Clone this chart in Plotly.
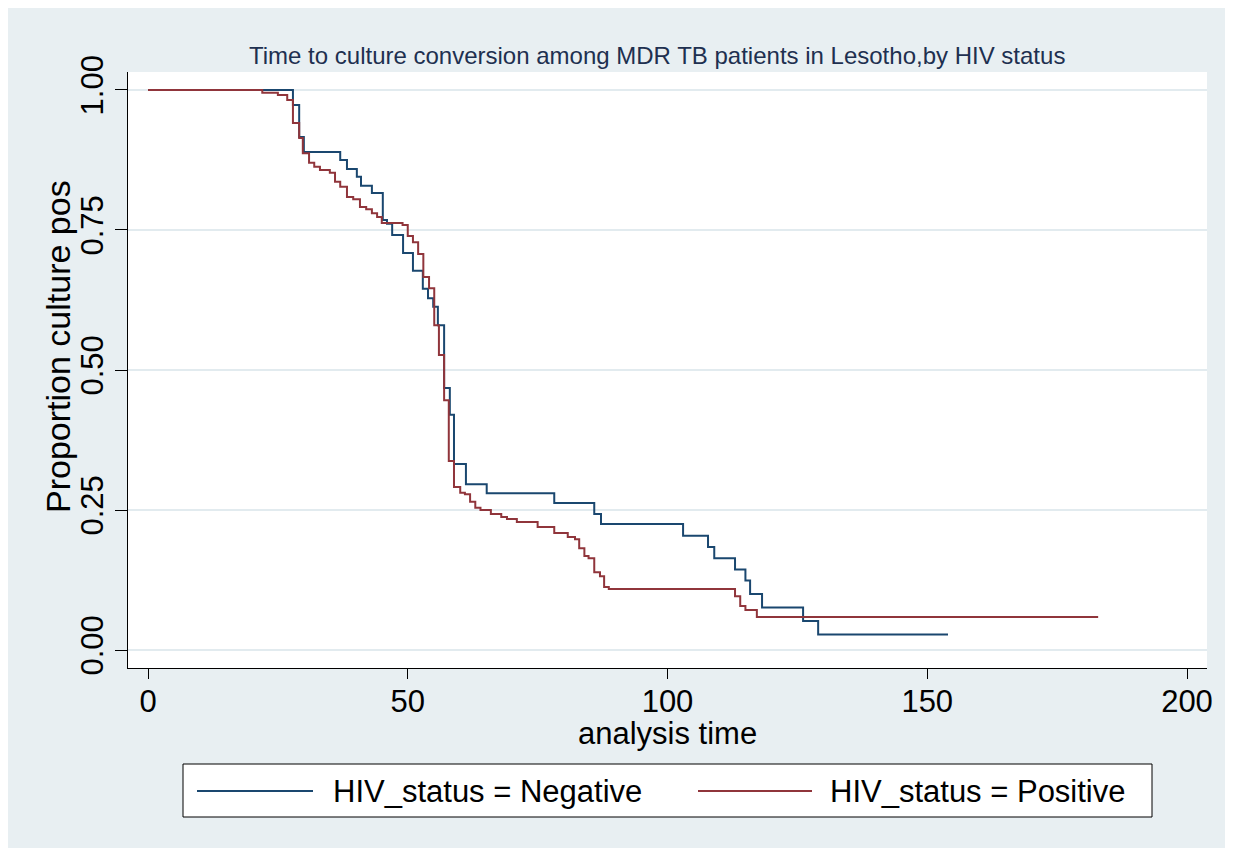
import plotly.graph_objects as go

# ---------------- data ----------------
neg_time = [0, 27.9, 29.1, 30.0, 37.0, 38.3, 40.2, 41.0, 43.1, 45.2,
            46.0, 47.0, 49.1, 51.0, 52.9, 53.9, 54.9, 55.8, 57.0, 58.1,
            58.9, 61.2, 65.2, 78.2, 85.9, 87.2, 103.0, 107.8, 109.0, 113.0,
            115.0, 115.9, 118.2, 126.1, 129.0, 154.0]
neg_surv = [1.0, 0.973, 0.916, 0.889, 0.875, 0.859, 0.845, 0.829, 0.816, 0.768,
            0.761, 0.741, 0.709, 0.677, 0.645, 0.628, 0.613, 0.580, 0.468, 0.420,
            0.332, 0.296, 0.280, 0.2625, 0.243, 0.225, 0.204, 0.184, 0.164, 0.144,
            0.124, 0.100, 0.076, 0.052, 0.028, 0.028]

pos_time = [0, 22, 25, 26.8, 27.9, 29.1, 29.8, 31, 32, 33.1,
            35, 36, 37, 38.3, 39.5, 40.8, 42, 43.1, 44.1, 45,
            49, 50, 51, 52, 53, 54.1, 55.1, 56, 57, 57.9,
            58.9, 60.1, 61, 62, 63, 64, 66, 68, 69.1, 71,
            75, 78.2, 80.8, 82.2, 83, 84, 84.8, 85.9, 87, 87.8,
            88.7, 113, 114, 115, 117.2, 182.9]
pos_surv = [1.0, 0.995, 0.991, 0.982, 0.941, 0.914, 0.887, 0.870, 0.863, 0.857,
            0.852, 0.836, 0.827, 0.809, 0.805, 0.791, 0.787, 0.780, 0.773, 0.7625,
            0.759, 0.739, 0.728, 0.707, 0.666, 0.646, 0.580, 0.527, 0.446, 0.3375,
            0.291, 0.281, 0.278, 0.265, 0.254, 0.250, 0.243, 0.2375, 0.234, 0.2286,
            0.2196, 0.209, 0.202, 0.198, 0.182, 0.168, 0.164, 0.139, 0.132, 0.1125,
            0.109, 0.096, 0.0786, 0.0714, 0.059, 0.059]

x_ticks = [0, 50, 100, 150, 200]
y_ticks = [0, 0.25, 0.5, 0.75, 1.0]
y_ticktext = ["0.00", "0.25", "0.50", "0.75", "1.00"]
series_names = ["HIV_status = Negative", "HIV_status = Positive"]
title_text = "Time to culture conversion among MDR TB patients in Lesotho,by HIV status"

# ---------------- styling ----------------
# The page body adds an 8px margin, so the figure is drawn 8px smaller and
# every position below is given in screenshot pixels.
OFF = 8
W, H = 1233 - OFF, 856 - OFF
PL, PR, PT, PB = 128, 1207, 72, 668   # plot area in screenshot pixels
NAVY = "#1a476f"
MAROON = "#90353b"
BG = "#e8eff2"
GRID = "#e2ebef"
FONT = "Liberation Sans, Arial, sans-serif"


def px_x(px):
    return (px - PL) / (PR - PL)


def px_y(py):
    return (PB - py) / (PB - PT)


fig = go.Figure()
fig.add_trace(go.Scatter(x=neg_time, y=neg_surv, mode="lines", line_shape="hv",
                         line=dict(color=NAVY, width=2), name=series_names[0],
                         showlegend=False))
fig.add_trace(go.Scatter(x=pos_time, y=pos_surv, mode="lines", line_shape="hv",
                         line=dict(color=MAROON, width=2), name=series_names[1],
                         showlegend=False))

shapes = [
    # bluish graph region
    dict(type="rect", xref="paper", yref="paper", layer="below",
         x0=px_x(OFF - 2), x1=px_x(1236), y0=px_y(848), y1=px_y(OFF - 2),
         fillcolor=BG, line=dict(width=0)),
    # white plot region
    dict(type="rect", xref="paper", yref="paper", layer="below",
         x0=0, x1=1, y0=0, y1=1, fillcolor="white", line=dict(width=0)),
    # legend box
    dict(type="rect", xref="paper", yref="paper", layer="below",
         x0=px_x(183), x1=px_x(1152), y0=px_y(817), y1=px_y(764),
         fillcolor="white", line=dict(color="black", width=1)),
    # legend samples
    dict(type="line", xref="paper", yref="paper",
         x0=px_x(197), x1=px_x(313), y0=px_y(791), y1=px_y(791),
         line=dict(color=NAVY, width=2)),
    dict(type="line", xref="paper", yref="paper",
         x0=px_x(698), x1=px_x(812), y0=px_y(791), y1=px_y(791),
         line=dict(color=MAROON, width=2)),
]

annotations = [
    dict(text=title_text, xref="paper", yref="paper", x=px_x(657), y=px_y(55),
         xanchor="center", yanchor="middle", showarrow=False,
         font=dict(family=FONT, size=24, color="#1e3050")),
    dict(text="Proportion culture pos", xref="paper", yref="paper",
         x=px_x(58), y=px_y(347), xanchor="center", yanchor="middle",
         textangle=-90, showarrow=False,
         font=dict(family=FONT, size=34, color="black")),
    dict(text="analysis time", xref="paper", yref="paper",
         x=px_x(667), y=px_y(733), xanchor="center", yanchor="middle",
         showarrow=False, font=dict(family=FONT, size=31, color="black")),
    dict(text=series_names[0], xref="paper", yref="paper",
         x=px_x(331), y=px_y(791), xanchor="left", yanchor="middle",
         showarrow=False, font=dict(family=FONT, size=31, color="black")),
    dict(text=series_names[1], xref="paper", yref="paper",
         x=px_x(828), y=px_y(791), xanchor="left", yanchor="middle",
         showarrow=False, font=dict(family=FONT, size=31, color="black")),
]

fig.update_layout(
    width=W, height=H,
    margin=dict(l=PL - OFF, r=1233 - PR, t=PT - OFF, b=856 - PB, pad=0),
    paper_bgcolor="white", plot_bgcolor="white",
    font=dict(family=FONT, size=31, color="black"),
    shapes=shapes, annotations=annotations,
    showlegend=False,
)
fig.update_xaxes(
    range=[-3.85, 203.85], tickvals=x_ticks, ticks="outside", ticklen=10,
    tickwidth=1, tickcolor="black", showline=True, linecolor="black",
    linewidth=1, showgrid=False, zeroline=False, ticklabelstandoff=-4,
    tickfont=dict(family=FONT, size=31, color="black"),
)
fig.update_yaxes(
    range=[-0.032, 1.032], tickvals=y_ticks, ticktext=y_ticktext,
    tickangle=-90, ticks="outside", ticklen=12, tickwidth=1,
    tickcolor="black", showline=True, linecolor="black", linewidth=1,
    showgrid=True, gridcolor=GRID, gridwidth=2, zeroline=False,
    tickfont=dict(family=FONT, size=31, color="black"),
)

fig.write_html("out.html")
